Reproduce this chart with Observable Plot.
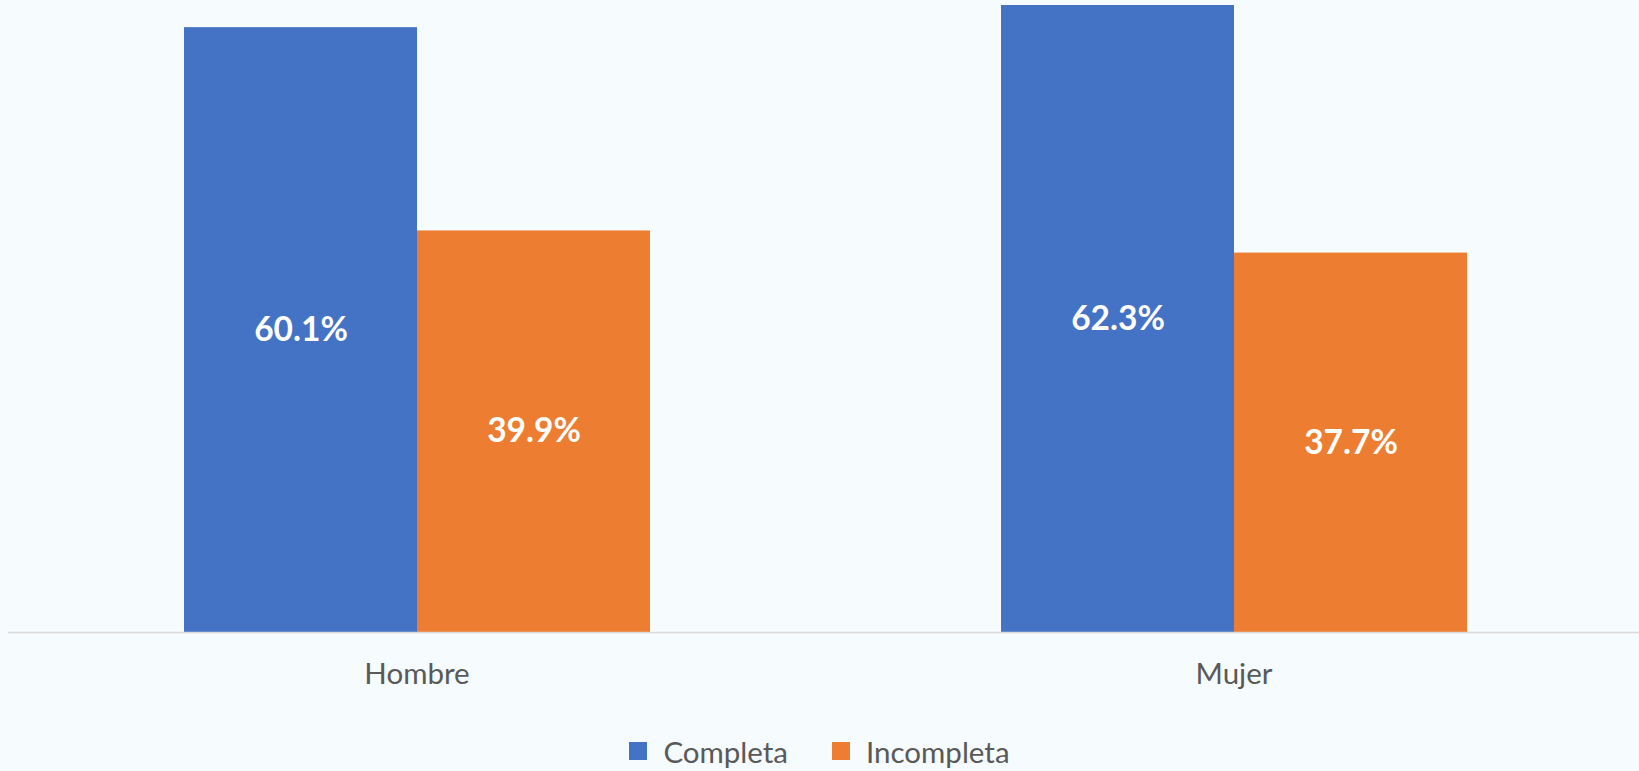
<!DOCTYPE html>
<html>
<head>
<meta charset="utf-8">
<script src="https://cdn.jsdelivr.net/npm/d3@7"></script>
<script src="https://cdn.jsdelivr.net/npm/@observablehq/plot@0.6"></script>
<style>
  html, body { margin: 0; padding: 0; background: #f6fbfd; }
  body { width: 1639px; height: 771px; overflow: hidden; font-family: Lato, "Open Sans", sans-serif; }
  #legend { display: flex; justify-content: center; align-items: center; margin-top: 21px; height: 30px; color: #595959; font-size: 29.5px; }
  .item { display: flex; align-items: center; }
  .sw { width: 18px; height: 18px; margin-right: 16px; }
  .item + .item { margin-left: 44px; }
</style>
</head>
<body>
<div id="chart"></div>
<div id="legend"></div>
<script>
const categories = ["Hombre", "Mujer"];
const series = ["Completa", "Incompleta"];
const completa = [60.1, 62.3];
const incompleta = [39.9, 37.7];
const colors = ["#4472c4", "#ed7d31"];

const data = [];
categories.forEach((c, i) => {
  data.push({category: c, series: series[0], value: completa[i]});
  data.push({category: c, series: series[1], value: incompleta[i]});
});

const chart = Plot.plot({
  width: 1639,
  height: 715,
  marginLeft: 8,
  marginRight: -3,
  marginTop: 5,
  marginBottom: 83,
  style: {background: "transparent", fontFamily: "Lato, 'Open Sans', sans-serif", overflow: "visible"},
  fx: {domain: categories, padding: 0, axis: null, label: null},
  x: {domain: series, paddingInner: 0, paddingOuter: 0.75, axis: null},
  y: {domain: [0, d3.max([...completa, ...incompleta])], axis: null},
  color: {domain: series, range: colors},
  marks: [
    Plot.barY(data, {fx: "category", x: "series", y: "value", fill: "series"}),
    Plot.ruleY([0], {stroke: "#d9d9d9", strokeWidth: 1.5}),
    Plot.text(data, {fx: "category", x: "series", y: d => d.value / 2,
      text: d => d.value.toFixed(1) + "%", fill: "white", fontSize: 33.5, fontWeight: "bold"}),
    Plot.axisFx({anchor: "bottom", tickSize: 0, tickPadding: 31, fontSize: 29.5, fill: "#595959", label: null})
  ]
});
document.getElementById("chart").appendChild(chart);

const legend = document.getElementById("legend");
series.forEach((s, i) => {
  const item = document.createElement("div");
  item.className = "item";
  const sw = document.createElement("div");
  sw.className = "sw";
  sw.style.background = colors[i];
  const t = document.createElement("span");
  t.textContent = s;
  item.appendChild(sw);
  item.appendChild(t);
  legend.appendChild(item);
});
</script>
</body>
</html>
